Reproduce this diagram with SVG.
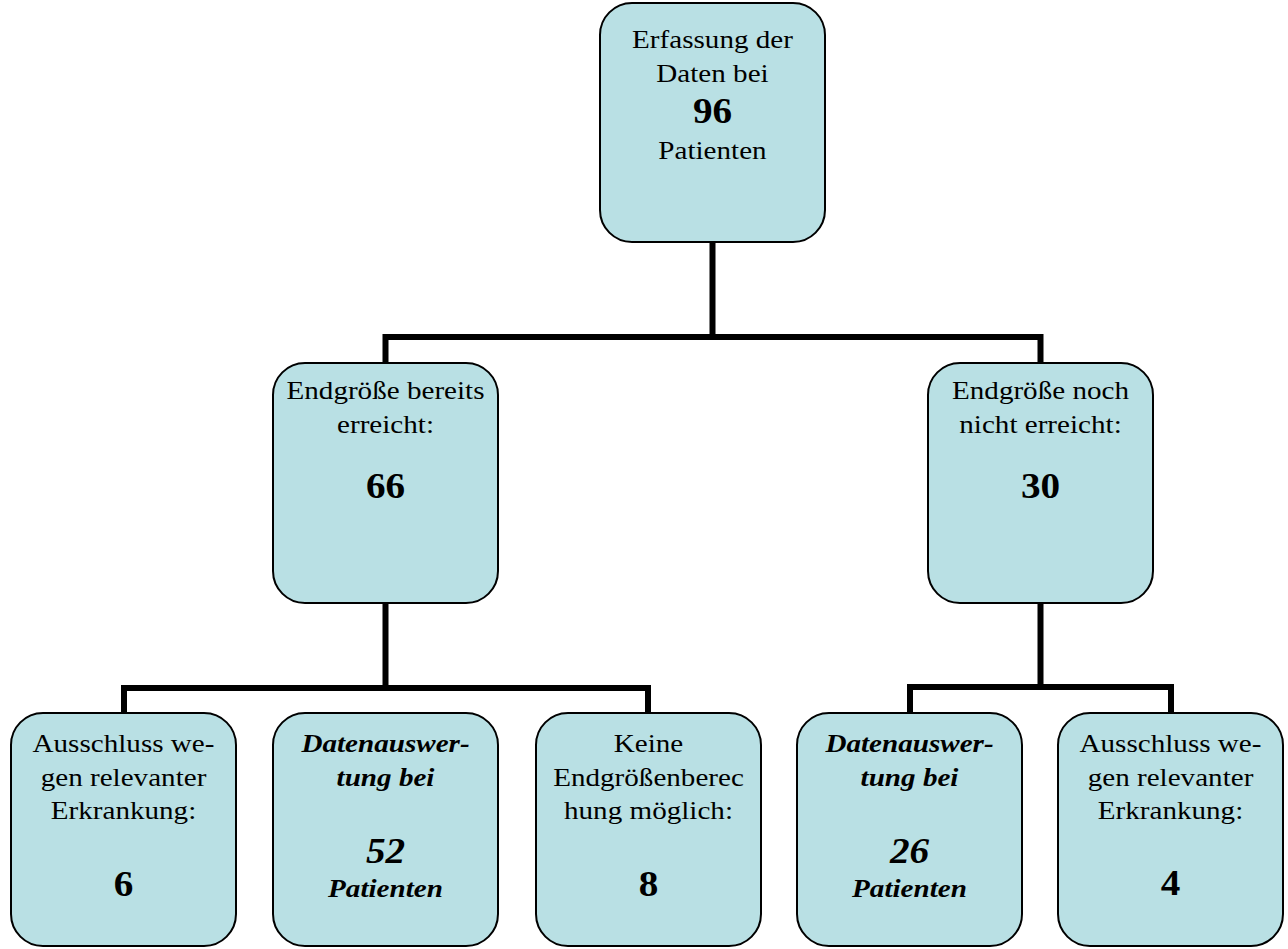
<svg xmlns="http://www.w3.org/2000/svg" width="1288" height="949" viewBox="0 0 1288 949">
<style>
.box{fill:#b9e0e4;stroke:#000;stroke-width:2}
.t{font-family:"Liberation Serif","Times New Roman",serif;font-size:26px;text-anchor:middle;fill:#000}
.n{font-weight:bold;font-size:35px}
.bi{font-weight:bold;font-style:italic}
.c{fill:none;stroke:#000;stroke-width:6;stroke-linejoin:miter;stroke-linecap:butt}
</style>
<rect width="1288" height="949" fill="#fff"/>
<g id="connectors">
<path class="c" d="M712.5,242 V337 M385.5,363 V337 H1040.5 V363"/>
<path class="c" d="M385.5,603 V688 M124,712 V688 H648 V712"/>
<path class="c" d="M1040.5,603 V687 M910,712 V687 H1171 V712"/>
</g>
<g id="n_top">
<rect class="box" x="600" y="3" width="225" height="239" rx="32"/>
<g transform="translate(712.5 0) scale(1.12 1)">
<text class="t" x="0" y="48">Erfassung der</text>
<text class="t" x="0" y="82">Daten bei</text>
<text class="t n" x="0" y="123">96</text>
<text class="t" x="0" y="159">Patienten</text>
</g>
</g>
<g id="n_mid_left">
<rect class="box" x="273" y="363" width="225" height="240" rx="32"/>
<g transform="translate(385.5 0) scale(1.12 1)">
<text class="t" x="0" y="399">Endgröße bereits</text>
<text class="t" x="0" y="433">erreicht:</text>
<text class="t n" x="0" y="498">66</text>
</g>
</g>
<g id="n_mid_right">
<rect class="box" x="928" y="363" width="225" height="240" rx="32"/>
<g transform="translate(1040.5 0) scale(1.12 1)">
<text class="t" x="0" y="399">Endgröße noch</text>
<text class="t" x="0" y="433">nicht erreicht:</text>
<text class="t n" x="0" y="498">30</text>
</g>
</g>
<g id="n_b1">
<rect class="box" x="11" y="713" width="225" height="233" rx="32"/>
<g transform="translate(123.5 0) scale(1.12 1)">
<text class="t" x="0" y="752">Ausschluss we-</text>
<text class="t" x="0" y="786">gen relevanter</text>
<text class="t" x="0" y="819">Erkrankung:</text>
<text class="t n" x="0" y="896">6</text>
</g>
</g>
<g id="n_b2">
<rect class="box" x="273" y="713" width="225" height="233" rx="32"/>
<g transform="translate(385.5 0) scale(1.12 1)">
<text class="t bi" x="0" y="752">Datenauswer-</text>
<text class="t bi" x="0" y="786">tung bei</text>
<text class="t bi" x="0" y="863" style="font-size:35px">52</text>
<text class="t bi" x="0" y="897">Patienten</text>
</g>
</g>
<g id="n_b3">
<rect class="box" x="536" y="713" width="225" height="233" rx="32"/>
<g transform="translate(648.5 0) scale(1.12 1)">
<text class="t" x="0" y="752">Keine</text>
<text class="t" x="0" y="786">Endgrößenberec</text>
<text class="t" x="0" y="819">hung möglich:</text>
<text class="t n" x="0" y="896">8</text>
</g>
</g>
<g id="n_b4">
<rect class="box" x="797" y="713" width="225" height="233" rx="32"/>
<g transform="translate(909.5 0) scale(1.12 1)">
<text class="t bi" x="0" y="752">Datenauswer-</text>
<text class="t bi" x="0" y="786">tung bei</text>
<text class="t bi" x="0" y="863" style="font-size:35px">26</text>
<text class="t bi" x="0" y="897">Patienten</text>
</g>
</g>
<g id="n_b5">
<rect class="box" x="1058" y="713" width="225" height="233" rx="32"/>
<g transform="translate(1170.5 0) scale(1.12 1)">
<text class="t" x="0" y="752">Ausschluss we-</text>
<text class="t" x="0" y="786">gen relevanter</text>
<text class="t" x="0" y="819">Erkrankung:</text>
<text class="t n" x="0" y="895">4</text>
</g>
</g>
</svg>
